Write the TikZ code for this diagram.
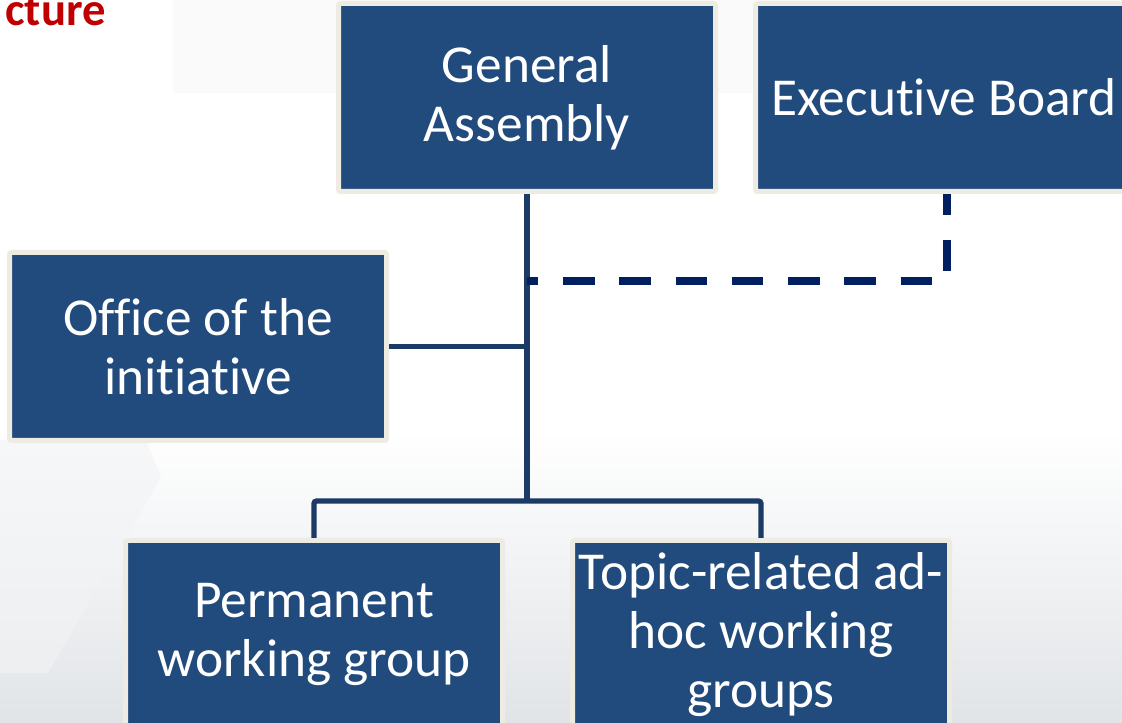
\documentclass[tikz,border=0pt]{standalone}
\usepackage{fontspec}
\setmainfont{Carlito}[RawFeature={-liga}]
\usepackage{tikz}
\usetikzlibrary{calc}
\definecolor{boxblue}{HTML}{214A7D}
\definecolor{boxrim}{HTML}{EEECE2}
\definecolor{linkblue}{HTML}{1B3A66}
\definecolor{dashblue}{HTML}{002060}
\definecolor{titlered}{HTML}{C00000}
\definecolor{fondgris}{HTML}{E1E4E7}
\definecolor{fondclair}{HTML}{F2F3F5}

\begin{document}
\begin{tikzpicture}[x=0.75pt,y=-0.75pt,
        organe/.style={draw=boxrim, fill=boxblue, line width=3.75pt, rounded corners=1.5pt,
            minimum width=282.75pt, minimum height=141pt, inner sep=0pt,
            text=white, align=center, font=\fontsize{40}{44}\selectfont},
        lien/.style={draw=linkblue, line width=4pt},
        lienpointille/.style={draw=dashblue, line width=6pt,
            dash pattern=on 23.7pt off 18.5pt, dash phase=15.2pt}]
    \useasboundingbox (0,0) rectangle (1122,723);
    % fond
    \fill[white] (0,0) rectangle (1122,723);
    \fill[fondclair!40] (173,0) rectangle (1122,93);
    \shade[top color=white, bottom color=fondgris] (0,430) rectangle (1122,723);
    \fill[fondclair, opacity=0.6] (0,440) -- (146,440) -- (161,477) -- (48,673) -- (0,673) -- cycle;
    % titre
    \node[anchor=base east, inner sep=0pt, text=titlered, font=\bfseries\fontsize{35}{40}\selectfont] (titre) at (106,26) {cture};
    % organes
    \node[organe] (ga) at (527,97.5) {General\\Assembly};
    \node[organe] (conseil) at (944,97.5) {Executive Board};
    \node[organe] (bureau) at (198,346.5) {Office of the\\initiative};
    \node[organe] (permanent) at (314,634.5) {Permanent\\working group};
    \node[organe] (adhoc) at (761,634.5) {Topic-related ad-\\hoc working\\groups};
    % liens
    \coordinate (bus) at (527,501);
    \coordinate (coude) at (947,281);
    \draw[lien] (ga.south) -- (bus);
    \draw[lien] (bureau.east) -- (bureau.east -| bus);
    \draw[lien, rounded corners=2pt] (permanent.north) |- (bus) -| (adhoc.north);
    \draw[lienpointille] (coude -| bus) -- (coude) -- (coude |- conseil.south);
\end{tikzpicture}
\end{document}
